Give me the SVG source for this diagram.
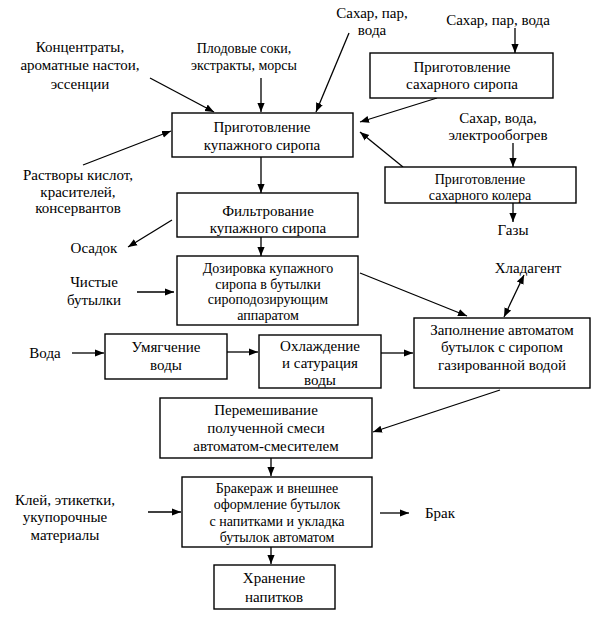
<svg xmlns="http://www.w3.org/2000/svg" width="606" height="624" viewBox="0 0 606 624">
<defs>
<marker id="ah" viewBox="0 0 10 10" refX="10" refY="5" markerWidth="9" markerHeight="9" markerUnits="userSpaceOnUse" orient="auto-start-reverse">
<path d="M0,1 L10,5 L0,9 Z" fill="#000"/>
</marker>
</defs>
<style>
.b{fill:#fff;stroke:#000;stroke-width:1.4}
text{font-family:'Liberation Serif','DejaVu Serif',serif;font-size:15px;fill:#000;text-anchor:middle}
.s{font-size:14px}
.c line{stroke:#000;stroke-width:1.3;marker-end:url(#ah)}
</style>
<rect width="606" height="624" fill="#fff"/>
<g class="c" id="connectors">
<line x1="150" y1="78" x2="214" y2="112"/>
<line x1="261" y1="78" x2="261" y2="112"/>
<line x1="349" y1="33" x2="316" y2="112"/>
<line x1="515" y1="28" x2="515" y2="53"/>
<line x1="437" y1="98" x2="360" y2="122"/>
<line x1="513" y1="143" x2="513" y2="167"/>
<line x1="403" y1="167" x2="360" y2="132"/>
<line x1="513" y1="203" x2="513" y2="222"/>
<line x1="83" y1="165" x2="171" y2="131"/>
<line x1="261" y1="157" x2="261" y2="193"/>
<line x1="172" y1="220" x2="128" y2="247"/>
<line x1="261" y1="237" x2="261" y2="256"/>
<line x1="137" y1="292" x2="174" y2="292"/>
<line x1="360" y1="273" x2="467" y2="316"/>
<line x1="504" y1="317" x2="524" y2="275" style="marker-start:url(#ah)"/>
<line x1="72" y1="353" x2="104" y2="353"/>
<line x1="227" y1="352" x2="258" y2="352"/>
<line x1="381" y1="353" x2="413" y2="353"/>
<line x1="500" y1="390" x2="373" y2="432"/>
<line x1="271" y1="458" x2="271" y2="476"/>
<line x1="148" y1="512" x2="181" y2="512"/>
<line x1="380" y1="513" x2="409" y2="513"/>
<line x1="271" y1="547" x2="271" y2="564"/>
</g>
<g id="labels">
<text x="80" y="52">Концентраты,</text>
<text x="80" y="70">ароматные настои,</text>
<text x="80" y="89">эссенции</text>
<text x="244" y="53" class="s">Плодовые соки,</text>
<text x="244" y="70" class="s">экстракты, морсы</text>
<text x="372" y="18">Сахар, пар,</text>
<text x="372" y="35">вода</text>
<text x="498" y="25">Сахар, пар, вода</text>
<text x="498" y="123">Сахар, вода,</text>
<text x="498" y="140">электрообогрев</text>
<text x="513" y="235">Газы</text>
<text x="78" y="180">Растворы кислот,</text>
<text x="78" y="197">красителей,</text>
<text x="78" y="213">консервантов</text>
<text x="94" y="253">Осадок</text>
<text x="94" y="287">Чистые</text>
<text x="94" y="305">бутылки</text>
<text x="528" y="273">Хладагент</text>
<text x="45" y="358">Вода</text>
<text x="65" y="505">Клей, этикетки,</text>
<text x="65" y="522">укупорочные</text>
<text x="65" y="540">материалы</text>
<text x="440" y="518">Брак</text>
</g>
<g id="n-kupazh">
<rect class="b" x="172" y="113" width="181" height="44"/>
<text x="262" y="132">Приготовление</text>
<text x="262" y="150">купажного сиропа</text>
</g>
<g id="n-sirop">
<rect class="b" x="370" y="53" width="183" height="45"/>
<text x="462" y="72">Приготовление</text>
<text x="462" y="89">сахарного сиропа</text>
</g>
<g id="n-koler">
<rect class="b" x="385" y="167" width="191" height="36"/>
<text x="480" y="184" class="s">Приготовление</text>
<text x="480" y="200" class="s">сахарного колера</text>
</g>
<g id="n-filtr">
<rect class="b" x="177" y="193" width="181" height="44"/>
<text x="268" y="216">Фильтрование</text>
<text x="268" y="233">купажного сиропа</text>
</g>
<g id="n-doz">
<rect class="b" x="177" y="256" width="181" height="69"/>
<text x="268" y="273" class="s">Дозировка купажного</text>
<text x="268" y="289" class="s">сиропа в бутылки</text>
<text x="268" y="304" class="s">сироподозирующим</text>
<text x="268" y="320" class="s">аппаратом</text>
</g>
<g id="n-zapoln">
<rect class="b" x="414" y="318" width="176" height="70"/>
<text x="502" y="335">Заполнение автоматом</text>
<text x="502" y="352">бутылок с сиропом</text>
<text x="502" y="370">газированной водой</text>
</g>
<g id="n-umyag">
<rect class="b" x="105" y="334" width="122" height="45"/>
<text x="166" y="352">Умягчение</text>
<text x="166" y="370">воды</text>
</g>
<g id="n-ohl">
<rect class="b" x="259" y="335" width="122" height="53"/>
<text x="320" y="351">Охлаждение</text>
<text x="320" y="368">и сатурация</text>
<text x="320" y="385">воды</text>
</g>
<g id="n-perem">
<rect class="b" x="160" y="398" width="212" height="60"/>
<text x="266" y="415">Перемешивание</text>
<text x="266" y="433">полученной смеси</text>
<text x="266" y="451">автоматом-смесителем</text>
</g>
<g id="n-brak">
<rect class="b" x="182" y="477" width="190" height="70"/>
<text x="277" y="493" class="s">Бракераж и внешнее</text>
<text x="277" y="509" class="s">оформление бутылок</text>
<text x="277" y="526" class="s">с напитками и укладка</text>
<text x="277" y="542" class="s">бутылок автоматом</text>
</g>
<g id="n-hran">
<rect class="b" x="214" y="565" width="121" height="44"/>
<text x="274" y="583">Хранение</text>
<text x="274" y="602">напитков</text>
</g>
</svg>
